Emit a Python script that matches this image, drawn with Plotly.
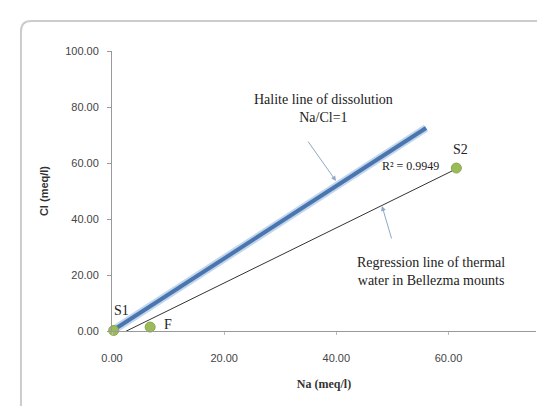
import numpy as np
import plotly.graph_objects as go

# Sample points
sample_names = ["S1", "F", "S2"]
na_values = [0.3, 6.8, 61.4]
cl_values = [0.2, 1.4, 58.2]

# Halite dissolution line (as drawn)
halite_na = [0.0, 56.0]
halite_cl = [0.0, 72.5]

x_ticks = [0, 20, 40, 60]
y_ticks = [0, 20, 40, 60, 80, 100]

slope, intercept = np.polyfit(na_values, cl_values, 1)
reg_x = [min(na_values), max(na_values)]
reg_y = [slope * v + intercept for v in reg_x]

fig = go.Figure()
fig.add_trace(go.Scatter(x=halite_na, y=halite_cl, mode="lines",
                         line=dict(color="#c3d6ec", width=8), hoverinfo="skip"))
fig.add_trace(go.Scatter(x=halite_na, y=halite_cl, mode="lines",
                         line=dict(color="#4a76b0", width=4), hoverinfo="skip"))
fig.add_trace(go.Scatter(x=reg_x, y=reg_y, mode="lines",
                         line=dict(color="#333333", width=1), hoverinfo="skip"))
fig.add_trace(go.Scatter(x=na_values, y=cl_values, mode="markers",
                         marker=dict(color="#9bbb59", size=10,
                                     line=dict(color="#8aa84c", width=1)),
                         cliponaxis=False))

serif = "Liberation Serif"
sans = "Liberation Sans"
ann = []
X_MAX = 75.6
def px2x(px):
    return (px - 104) / (528 - 104) * X_MAX
def py2y(py):
    return (323 - py) / (323 - 43) * 100

txt = dict(family=serif, size=14, color="#222")
ann.append(dict(x=px2x(315), y=py2y(100), text="Halite line of dissolution<br>Na/Cl=1",
                showarrow=False, font=txt, align="center"))
ann.append(dict(x=px2x(328), y=py2y(173), ax=px2x(299), ay=py2y(132),
                axref="x", ayref="y", text="",
                showarrow=True, arrowhead=2, arrowsize=1, arrowwidth=1, arrowcolor="#8fa8c8"))
ann.append(dict(x=px2x(423), y=py2y(263), text="Regression line of thermal<br>water in Bellezma mounts",
                showarrow=False, font=txt, align="center"))
ann.append(dict(x=px2x(374), y=py2y(198), ax=px2x(384), ay=py2y(232),
                axref="x", ayref="y", text="",
                showarrow=True, arrowhead=2, arrowsize=1, arrowwidth=1, arrowcolor="#8fa8c8"))
ann.append(dict(x=px2x(452), y=py2y(141), text="S2", showarrow=False, font=txt))
ann.append(dict(x=px2x(402), y=py2y(158), text="R² = 0.9949", showarrow=False,
                font=dict(family=serif, size=12, color="#222")))
ann.append(dict(x=px2x(113), y=py2y(302), text="S1", showarrow=False, font=txt))
ann.append(dict(x=px2x(160), y=py2y(316), text="F", showarrow=False, font=txt))
for a in ann:
    a.setdefault("xref", "x")
    a.setdefault("yref", "y")

fig.update_layout(
    width=545, height=406,
    margin=dict(l=104, r=17, t=43, b=83),
    paper_bgcolor="white", plot_bgcolor="white",
    showlegend=False,
    annotations=ann,
    xaxis=dict(range=[0, X_MAX], tickvals=x_ticks, tickformat=".2f",
               showgrid=False, zeroline=False, showline=True, linecolor="#999",
               ticks="outside", ticklen=3, tickcolor="#bbb",
               ticklabelstandoff=14,
               tickfont=dict(family=sans, size=11, color="#444"),
               title=dict(text="<b>Na (meq/l)</b>", font=dict(family=serif, size=12, color="#333"),
                          standoff=16)),
    yaxis=dict(range=[0, 100], tickvals=y_ticks, tickformat=".2f",
               showgrid=False, zeroline=False, showline=True, linecolor="#999",
               ticks="outside", ticklen=4, tickcolor="#999",
               ticklabelstandoff=6,
               tickfont=dict(family=sans, size=11, color="#444"),
               title=dict(text="<b>Cl (meq/l)</b>", font=dict(family=sans, size=11, color="#333"),
                          standoff=14)),
    shapes=[dict(type="path", xref="paper", yref="paper",
                 path="M -0.2147,-0.4 L -0.2147,1.07 Q -0.2147,1.107 -0.19,1.107 L 1.1,1.107",
                 line=dict(color="#cccccc", width=2))],
)

fig.write_html("out.html")
